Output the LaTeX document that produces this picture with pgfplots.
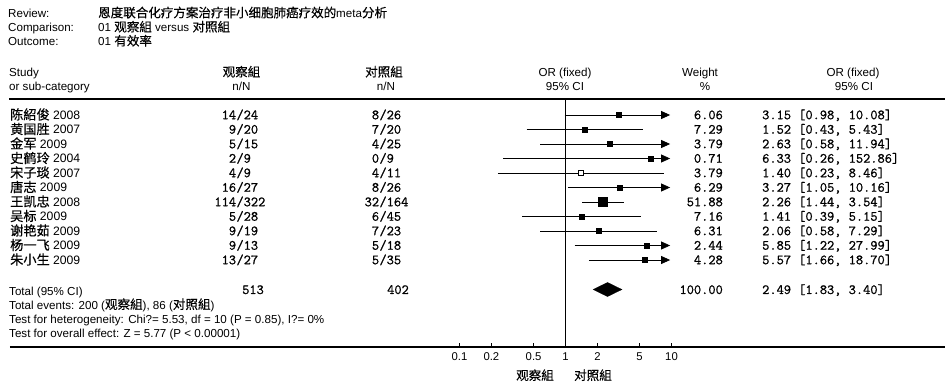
\documentclass[border=0pt]{standalone}
\usepackage{fontspec}
\setmainfont{Liberation Sans}
\newfontfamily\cjk[Scale=1.08,FakeBold=0.4]{Noto Sans CJK SC}
\newfontfamily\mono[FakeBold=1]{Latin Modern Mono}
\usepackage{pgfplots}
\pgfplotsset{compat=1.18}
\usetikzlibrary{arrows.meta}
\newcommand\C[1]{{\cjk #1}}
\newcommand\sz{\fontsize{11.6}{13}\selectfont}
\newcommand\sr{\fontsize{12.2}{13}\selectfont}
\newcommand\mz{\fontsize{14}{15}\selectfont\mono}
\begin{document}
\begin{tikzpicture}
\useasboundingbox (0pt,0pt) rectangle (950pt,-387pt);
\begin{axis}[
  at={(10pt,-347pt)}, anchor=south west,
  scale only axis, width=935pt, height=248pt,
  xmode=log, xmin=5.746e-6, xmax=3803,
  ymin=99, ymax=347, y dir=reverse,
  axis x line*=bottom, axis y line=none,
  x axis line style={line width=1.1pt,-},
  xtick={0.1,0.2,0.5,1,2,5,10},
  xticklabels={0.1,0.2,0.5,1,2,5,10},
  minor xtick={},
  tick align=inside, major tick length=4pt,
  tick style={black,line width=0.8pt},
  xticklabel style={font=\fontsize{11.3}{12}\selectfont, anchor=base, yshift=-13pt},
  clip=false,
]
% vertical line of no effect
\addplot[black, line width=0.9pt] coordinates {(1,99) (1,347)};
% confidence intervals
\pgfplotsset{ci/.style={black, line width=0.8pt},
  ar/.style={black, line width=0.8pt, -{Triangle[length=9pt,width=8pt]}}}
\addplot[ar] coordinates {(0.98,115) (9.7,115)};
\addplot[ci] coordinates {(0.43,129.5) (5.43,129.5)};
\addplot[ar] coordinates {(0.58,144) (9.7,144)};
\addplot[ar] coordinates {(0.26,158.5) (9.7,158.5)};
\addplot[ci] coordinates {(0.23,173) (8.46,173)};
\addplot[ar] coordinates {(1.05,187.5) (9.7,187.5)};
\addplot[ci] coordinates {(1.44,202) (3.54,202)};
\addplot[ci] coordinates {(0.39,216.5) (5.15,216.5)};
\addplot[ci] coordinates {(0.58,231) (7.29,231)};
\addplot[ar] coordinates {(1.22,245.5) (9.7,245.5)};
\addplot[ar] coordinates {(1.66,260) (9.7,260)};
% point estimates
\addplot[only marks, mark=square*, mark size=2.6pt, black] coordinates {
(3.15,115) (1.52,129.5) (2.63,144) (6.33,158.5) (3.27,187.5)
(1.41,216.5) (2.06,231) (5.85,245.5) (5.57,260)};
\addplot[only marks, mark=square*, mark size=2.3pt, black, fill=white, line width=1pt] coordinates {(1.40,173)};
\addplot[only marks, mark=square*, mark size=4.6pt, black] coordinates {(2.26,202)};
% pooled diamond
\addplot[black, fill=black] coordinates {(1.83,289.5) (2.49,282.5) (3.40,289.5) (2.49,296.5)} -- cycle;
\end{axis}
\draw[line width=1.1pt] (9pt,-99pt) -- (945pt,-99pt);
\begin{scope}[x=1pt,y=-1pt, every node/.style={inner sep=0pt}]
% header
\node[anchor=base west,font=\sz] at (8,17.3) {Review:};
\node[anchor=base west,font=\sz] at (8,31.5) {Comparison:};
\node[anchor=base west,font=\sz] at (8,45.5) {Outcome:};
\node[anchor=base west,font=\sz] at (98,17.3) {\C{恩度联合化疗方案治疗非小细胞肺癌疗效的}meta\C{分析}};
\node[anchor=base west,font=\sz] at (98,31.5) {01 \C{观察組} versus \C{对照組}};
\node[anchor=base west,font=\sz] at (98,45.5) {01 \C{有效率}};
% column heads
\node[anchor=base west,font=\sz] at (9,77) {Study};
\node[anchor=base west,font=\sz] at (9,90.5) {or sub-category};
\node[anchor=base,font=\sz] at (241.5,76.5) {\C{观察組}};
\node[anchor=base,font=\sz] at (241.5,90.5) {n/N};
\node[anchor=base,font=\sz] at (384,76.5) {\C{对照組}};
\node[anchor=base,font=\sz] at (386,90.5) {n/N};
\node[anchor=base,font=\sz] at (565,77) {OR (fixed)};
\node[anchor=base,font=\sz] at (565,90.5) {95\% CI};
\node[anchor=base,font=\sz] at (700,77) {Weight};
\node[anchor=base,font=\sz] at (705,90.5) {\%};
\node[anchor=base,font=\sz] at (853,77) {OR (fixed)};
\node[anchor=base,font=\sz] at (854,90.5) {95\% CI};
% study rows
\foreach \y/\an/\ad/\bn/\bd/\w/\ci in {
 115/14/24/8/26/6.06/{3.15 [0.98, 10.08]},
 129.5/9/20/7/20/7.29/{1.52 [0.43, 5.43]},
 144/5/15/4/25/3.79/{2.63 [0.58, 11.94]},
 158.5/2/9/0/9/0.71/{6.33 [0.26, 152.86]},
 173/4/9/4/11/3.79/{1.40 [0.23, 8.46]},
 187.5/16/27/8/26/6.29/{3.27 [1.05, 10.16]},
 202/114/322/32/164/51.88/{2.26 [1.44, 3.54]},
 216.5/5/28/6/45/7.16/{1.41 [0.39, 5.15]},
 231/9/19/7/23/6.31/{2.06 [0.58, 7.29]},
 245.5/9/13/5/18/2.44/{5.85 [1.22, 27.99]},
 260/13/27/5/35/4.28/{5.57 [1.66, 18.70]}}{
 \node[anchor=base east,font=\mz] at (236.3,\y+4.2) {\an};
 \node[anchor=base west,font=\mz] at (236.3,\y+4.2) {/\ad};
 \node[anchor=base east,font=\mz] at (379.3,\y+4.2) {\bn};
 \node[anchor=base west,font=\mz] at (379.3,\y+4.2) {/\bd};
 \node[anchor=base east,font=\mz] at (723,\y+4.2) {\w};
 \node[anchor=base west,font=\mz] at (762,\y+4.2) {\ci};
}
\node[anchor=base west,font=\sr] at (10,119.5) {\C{陈紹俊} 2008};
\node[anchor=base west,font=\sr] at (10,134) {\C{黄国胜} 2007};
\node[anchor=base west,font=\sr] at (10,148.5) {\C{金军} 2009};
\node[anchor=base west,font=\sr] at (10,163) {\C{史鹤玲} 2004};
\node[anchor=base west,font=\sr] at (10,177.5) {\C{宋子琰} 2007};
\node[anchor=base west,font=\sr] at (10,192) {\C{唐志} 2009};
\node[anchor=base west,font=\sr] at (10,206.5) {\C{王凯忠} 2008};
\node[anchor=base west,font=\sr] at (10,221) {\C{吴标} 2009};
\node[anchor=base west,font=\sr] at (10,235.5) {\C{谢艳茹} 2009};
\node[anchor=base west,font=\sr] at (10,250) {\C{杨一飞} 2009};
\node[anchor=base west,font=\sr] at (10,264.5) {\C{朱小生} 2009};
% totals
\node[anchor=base west,font=\sz] at (9,295) {Total (95\% CI)};
\node[anchor=base west,font=\mz] at (242,294) {513};
\node[anchor=base west,font=\mz] at (387,294) {402};
\node[anchor=base east,font=\mz] at (723,294) {100.00};
\node[anchor=base west,font=\mz] at (762,294) {2.49 [1.83, 3.40]};
\node[anchor=base west,font=\sz] at (9,309) {Total events: 200 (\C{观察組}), 86 (\C{对照組})};
\node[anchor=base west,font=\sz] at (9,323) {Test for heterogeneity: Chi?= 5.53, df = 10 (P = 0.85), I?= 0\%};
\node[anchor=base west,font=\sz] at (9,337.5) {Test for overall effect: Z = 5.77 (P < 0.00001)};
% favours labels
\node[anchor=base,font=\sz] at (535,380) {\C{观察組}};
\node[anchor=base,font=\sz] at (593,380) {\C{对照組}};
\end{scope}
\end{tikzpicture}
\end{document}
